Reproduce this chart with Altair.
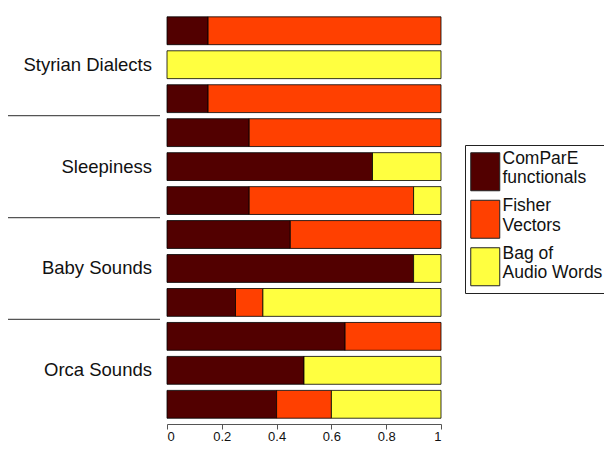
import altair as alt
import pandas as pd

groups = ["Styrian Dialects", "Sleepiness", "Baby Sounds", "Orca Sounds"]
methods = ["ComParE functionals", "Fisher Vectors", "Bag of Audio Words"]
legend_lines = [["ComParE", "functionals"], ["Fisher", "Vectors"], ["Bag of", "Audio Words"]]

# one value per bar, top to bottom
compare = [0.15, 0.00, 0.15, 0.30, 0.75, 0.30, 0.45, 0.90, 0.25, 0.65, 0.50, 0.40]
fisher  = [0.85, 0.00, 0.85, 0.70, 0.00, 0.60, 0.55, 0.00, 0.10, 0.35, 0.00, 0.20]
boaw    = [0.00, 1.00, 0.00, 0.00, 0.25, 0.10, 0.00, 0.10, 0.65, 0.00, 0.50, 0.40]
colors = ["#520000", "#ff4000", "#ffff40"]
tick_values = [0, 0.2, 0.4, 0.6, 0.8, 1]

rows = []
for i in range(len(compare)):
    for k, series in enumerate([compare, fisher, boaw]):
        if series[i] > 0:
            rows.append({"pos": i + 1, "method": methods[k], "order": k, "value": series[i]})
df = pd.DataFrame(rows)

group_df = pd.DataFrame({"group": groups, "gpos": [2 + 3 * j for j in range(len(groups))]})
sep_df = pd.DataFrame({"sep": [3.5 + 3 * j for j in range(len(groups) - 1)]})

yscale = alt.Scale(domain=[0.33, 12.58], reverse=True, nice=False, zero=False)

label_expr = " : ".join(
    f"datum.label == '{m}' ? ['{l[0]}', '{l[1]}']" for m, l in zip(methods, legend_lines)
) + " : datum.label"

bars = (
    alt.Chart(df)
    .transform_window(cum="sum(value)", groupby=["pos"], sort=[{"field": "order"}])
    .transform_calculate(
        x0="datum.cum - datum.value",
        y0="datum.pos - 0.41",
        y1="datum.pos + 0.41",
    )
    .mark_rect(stroke="black", strokeWidth=0.8)
    .encode(
        x=alt.X(
            "x0:Q",
            scale=alt.Scale(domain=[0, 1], nice=False, zero=False),
            axis=alt.Axis(
                values=tick_values, format=".1~f", grid=False, title=None,
                domainColor="#555", tickColor="#555", tickSize=5,
                labelFontSize=13, labelColor="#111", labelPadding=1,
            ),
        ),
        x2="cum:Q",
        y=alt.Y(
            "y0:Q", scale=yscale,
            axis=alt.Axis(ticks=False, labels=False, grid=False, title=None, domainColor="#555"),
        ),
        y2="y1:Q",
        color=alt.Color(
            "method:N",
            scale=alt.Scale(domain=methods, range=colors),
            legend=alt.Legend(
                title=None, orient="none", legendX=298, legendY=137,
                symbolType="M-1,-0.75H2.625V4H-1Z", symbolSize=256,
                symbolStrokeColor="#222", symbolStrokeWidth=1, symbolOpacity=1,
                labelExpr=label_expr, labelFontSize=17.5, labelColor="#111",
                labelLimit=300, labelOffset=15, rowPadding=3.5,
                strokeColor="#222", fillColor="white", padding=5,
            ),
        ),
    )
)

seps = (
    alt.Chart(sep_df)
    .mark_rule(color="#555", strokeWidth=1.2)
    .encode(x=alt.value(-159), x2=alt.value(-7), y=alt.Y("sep:Q", scale=yscale, axis=None))
)

labels = (
    alt.Chart(group_df)
    .mark_text(align="right", baseline="middle", fontSize=18.5, color="#111")
    .encode(x=alt.value(-15), y=alt.Y("gpos:Q", scale=yscale, axis=None), text="group:N")
)

chart = (
    alt.layer(bars, seps, labels)
    .properties(
        width=274, height=416,
        autosize=alt.AutoSizeParams(type="none"),
        padding={"left": 159, "top": 0, "right": 163, "bottom": 18},
    )
    .configure(font="Liberation Sans")
    .configure_view(stroke=None)
)

chart.save("out.html", embed_options={"renderer": "svg", "actions": False})
